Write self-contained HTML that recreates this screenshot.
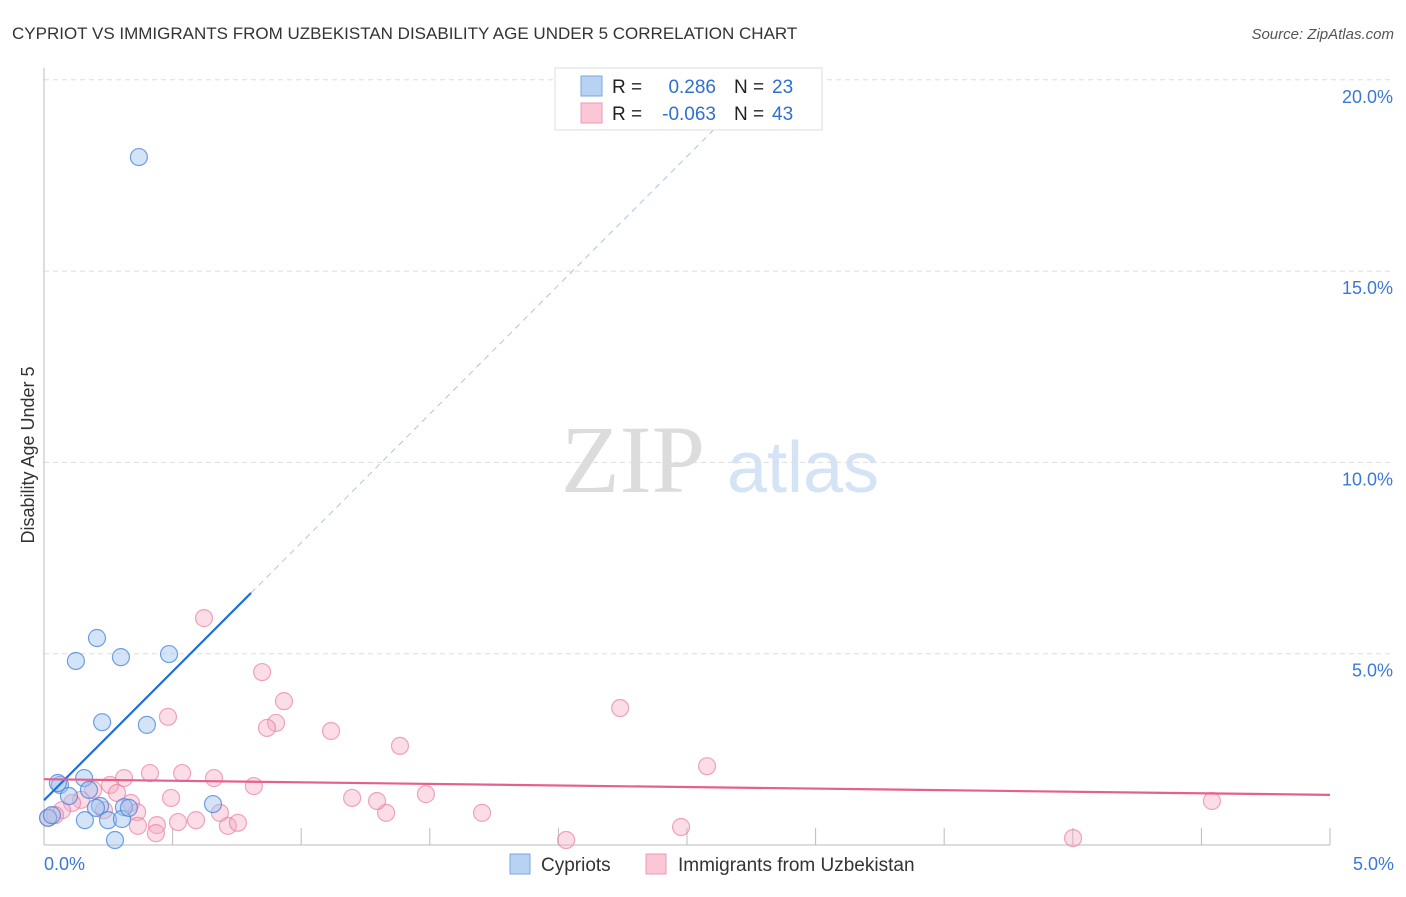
<!DOCTYPE html>
<html><head><meta charset="utf-8"><style>
body{margin:0;background:#fff;font-family:"Liberation Sans",sans-serif;}
</style></head><body>
<svg id="c" width="1406" height="892" xmlns="http://www.w3.org/2000/svg">
<text x="12" y="39" font-size="17" fill="#333">CYPRIOT VS IMMIGRANTS FROM UZBEKISTAN DISABILITY AGE UNDER 5 CORRELATION CHART</text>
<text x="1394" y="39" font-size="15" fill="#555" font-style="italic" text-anchor="end">Source: ZipAtlas.com</text>
<text x="633" y="492" font-size="96" fill="#dcdcdc" font-family="Liberation Serif,serif" text-anchor="middle">ZIP</text>
<text x="803" y="492" font-size="72" fill="#d4e3f6" text-anchor="middle">atlas</text>
<text transform="translate(34,455) rotate(-90)" font-size="18" fill="#333" text-anchor="middle">Disability Age Under 5</text>
<g id="grid"></g><g id="marks"></g>
<g>
<rect x="555" y="68" width="267" height="62" fill="#fff" stroke="#ddd"/>
<rect x="581" y="76" width="21" height="20" fill="#b8d2f4" stroke="#7aa7e0"/>
<rect x="581" y="103" width="21" height="20" fill="#f9c7d6" stroke="#ee9ab4"/>
<text x="612" y="93" font-size="19" fill="#222">R =</text><text x="716" y="93" font-size="19" fill="#2f6fd0" text-anchor="end">0.286</text>
<text x="734" y="93" font-size="19" fill="#222">N =</text><text x="772" y="93" font-size="19" fill="#2f6fd0">23</text>
<text x="612" y="120" font-size="19" fill="#222">R =</text><text x="716" y="120" font-size="19" fill="#2f6fd0" text-anchor="end">-0.063</text>
<text x="734" y="120" font-size="19" fill="#222">N =</text><text x="772" y="120" font-size="19" fill="#2f6fd0">43</text>
</g>
<g>
<rect x="510" y="854" width="20" height="20" fill="#b8d2f4" stroke="#7aa7e0"/>
<text x="541" y="871" font-size="19" fill="#333">Cypriots</text>
<rect x="646" y="854" width="20" height="20" fill="#f9c7d6" stroke="#ee9ab4"/>
<text x="678" y="871" font-size="19" fill="#333">Immigrants from Uzbekistan</text>
</g>
</svg>
<script>
const yTicks=[5,10,15,20];
const yTickLabels=["5.0%","10.0%","15.0%","20.0%"];
const xTickLabels=["0.0%","5.0%"];
const blueX=[0.369,0.206,0.124,0.299,0.486,0.226,0.400,0.062,0.156,0.054,0.097,0.175,0.218,0.311,0.202,0.159,0.249,0.303,0.330,0.657,0.276,0.016,0.031];
const blueY=[17.98,5.41,4.81,4.91,4.99,3.21,3.14,1.57,1.75,1.62,1.28,1.44,1.02,0.99,0.97,0.65,0.65,0.68,0.97,1.07,0.13,0.71,0.78];
const pinkX=[0.622,0.848,0.933,0.482,0.902,0.867,1.116,1.384,2.240,2.578,4.541,4.001,2.030,2.477,1.703,1.485,1.330,1.198,1.295,0.816,0.661,0.537,0.412,0.311,0.257,0.191,0.144,0.109,0.070,0.043,0.016,0.233,0.284,0.338,0.362,0.494,0.591,0.521,0.439,0.365,0.715,0.754,0.684,0.435];
const pinkY=[5.93,4.52,3.76,3.35,3.19,3.06,2.98,2.59,3.58,2.06,1.15,0.18,0.13,0.47,0.84,1.33,0.84,1.23,1.15,1.54,1.75,1.88,1.88,1.75,1.57,1.44,1.18,1.10,0.91,0.78,0.71,0.91,1.36,1.10,0.86,1.23,0.65,0.60,0.52,0.50,0.50,0.58,0.84,0.31];
const blueFit=[1.17,6.73];
const pinkFit=[1.72,-0.082];
const NS="http://www.w3.org/2000/svg";
const X=v=>44+v*257.2, Y=v=>845-v*38.26;
function mk(t,a,p){const e=document.createElementNS(NS,t);for(const k in a)e.setAttribute(k,a[k]);p.appendChild(e);return e;}
const g=document.getElementById('grid'), m=document.getElementById('marks');
yTicks.forEach((t,i)=>{
 const l=mk('line',{x1:44,x2:1394,y1:Y(t),y2:Y(t),stroke:'#ddd','stroke-dasharray':'5,4'},g);
 
 
 const tx=mk('text',{x:1393,y:Y(t)+23,'font-size':18,fill:'#3b78d8','text-anchor':'end'},g);
 tx.textContent=yTickLabels[i];
 
 
});
const ax=mk('line',{x1:44,x2:44,y1:68,y2:845,stroke:'#bbb'},g);


const bx=mk('line',{x1:44,x2:1330,y1:845,y2:845,stroke:'#bbb'},g);


for(let i=1;i<=10;i++){const t=mk('line',{x1:X(i*0.5),x2:X(i*0.5),y1:828,y2:845,stroke:'#bbb'},g);
 
 }
[[0,'start'],[5,'end']].forEach((d,i)=>{const t=mk('text',{x:i?1394:44,y:870,'font-size':18,fill:'#3b78d8','text-anchor':d[1]},g);t.textContent=xTickLabels[i];
 
 });
pinkX.forEach((x,i)=>{const c=mk('circle',{cx:X(x),cy:Y(pinkY[i]),r:8.5,fill:'rgba(246,170,195,0.4)',stroke:'rgba(232,120,158,0.65)','stroke-width':1.2},m);
 
 });
blueX.forEach((x,i)=>{const c=mk('circle',{cx:X(x),cy:Y(blueY[i]),r:8.5,fill:'rgba(160,195,240,0.45)',stroke:'rgba(70,130,215,0.75)','stroke-width':1.2},m);
 
 });
const b1=mk('line',{x1:X(0),y1:Y(blueFit[0]),x2:X(0.805),y2:Y(blueFit[0]+blueFit[1]*0.805),stroke:'#1f6fd6','stroke-width':2.2},m);


const b2=mk('line',{x1:X(0.805),y1:Y(blueFit[0]+blueFit[1]*0.805),x2:X(2.63),y2:Y(blueFit[0]+blueFit[1]*2.63),stroke:'#a8c4ea','stroke-width':1,'stroke-dasharray':'6,5'},m);


const p1=mk('line',{x1:X(0),y1:Y(pinkFit[0]),x2:X(5),y2:Y(pinkFit[0]+pinkFit[1]*5),stroke:'#e5608e','stroke-width':2.2},m);


</script>
</body></html>
